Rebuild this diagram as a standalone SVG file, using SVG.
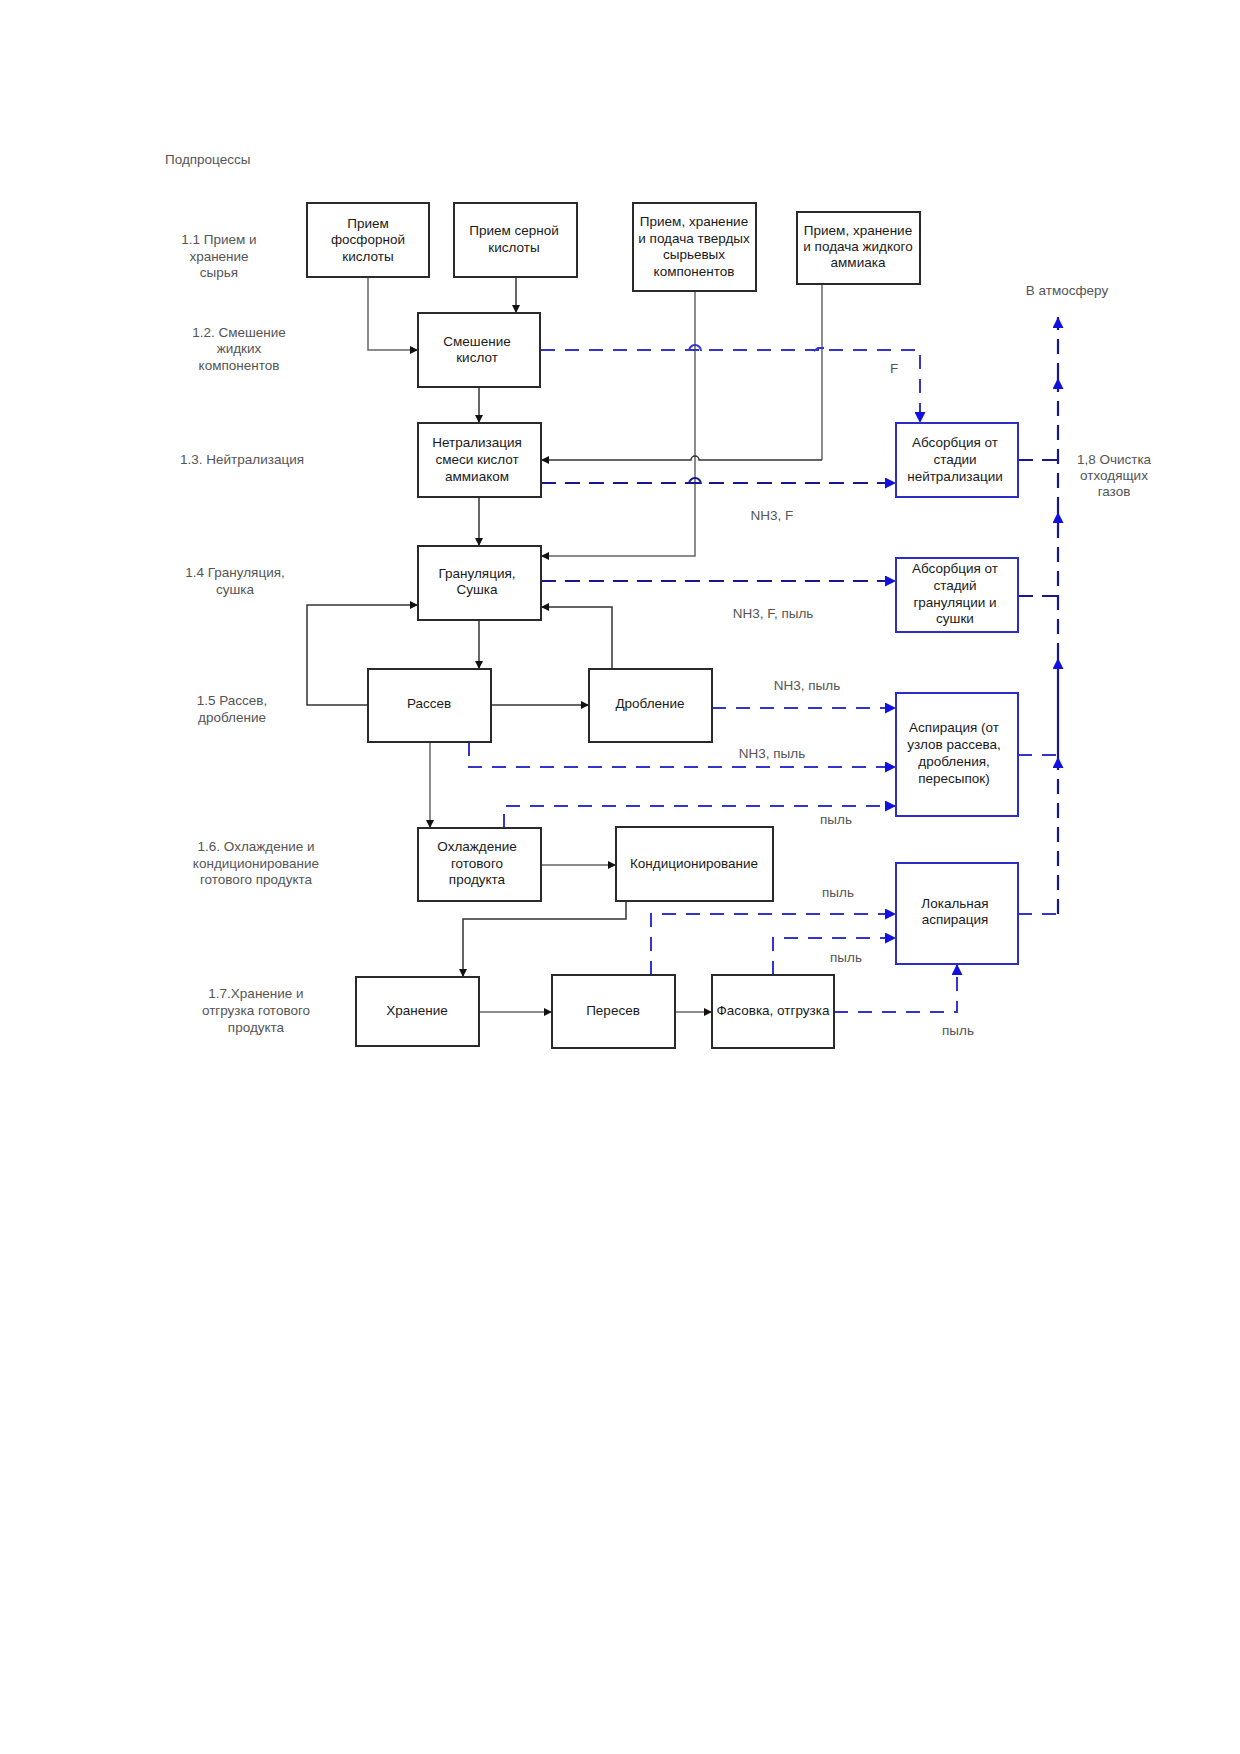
<svg xmlns="http://www.w3.org/2000/svg" width="1240" height="1754" viewBox="0 0 1240 1754">
<style>
text{font-family:"Liberation Sans",Arial,sans-serif;font-size:13.5px}
.bt{fill:#1a1a1a;text-anchor:middle}
.lb{fill:#555;text-anchor:middle}
.ll{fill:#555}
.gl{fill:#555;text-anchor:middle}
.box{fill:#fff;stroke:#2a2a2a;stroke-width:2}
.bbox{fill:#fff;stroke:#2c2cc8;stroke-width:2}
.sl{fill:none;stroke:#333;stroke-width:1.5}
.sg{fill:none;stroke:#666;stroke-width:1.5}
.dn{fill:none;stroke:#18188c;stroke-width:2.2;stroke-dasharray:15 9}
.db{fill:none;stroke:#3434cc;stroke-width:2;stroke-dasharray:14 10}
.hop{fill:none;stroke-width:2}
</style>
<defs>
<marker id="ak" viewBox="0 0 10 10" refX="10" refY="5" markerWidth="8" markerHeight="8" markerUnits="userSpaceOnUse" orient="auto"><path d="M0,0L10,5L0,10z" fill="#111"/></marker>
<marker id="ab" viewBox="0 0 10 10" refX="10" refY="5" markerWidth="11" markerHeight="11" markerUnits="userSpaceOnUse" orient="auto"><path d="M0,0L10,5L0,10z" fill="#1010e0"/></marker>
</defs>
<rect width="1240" height="1754" fill="#fff"/>

<g id="labels">
<text class="ll" x="165" y="164">Подпроцессы</text>
<text class="lb" x="219" y="244">1.1 Прием и</text>
<text class="lb" x="219" y="261">хранение</text>
<text class="lb" x="219" y="277">сырья</text>
<text class="lb" x="239" y="337">1.2. Смешение</text>
<text class="lb" x="239" y="353">жидких</text>
<text class="lb" x="239" y="370">компонентов</text>
<text class="lb" x="242" y="464">1.3. Нейтрализация</text>
<text class="lb" x="235" y="577">1.4 Грануляция,</text>
<text class="lb" x="235" y="594">сушка</text>
<text class="lb" x="232" y="705">1.5 Рассев,</text>
<text class="lb" x="232" y="722">дробление</text>
<text class="lb" x="256" y="851">1.6. Охлаждение и</text>
<text class="lb" x="256" y="868">кондиционирование</text>
<text class="lb" x="256" y="884">готового продукта</text>
<text class="lb" x="256" y="998">1.7.Хранение и</text>
<text class="lb" x="256" y="1015">отгрузка готового</text>
<text class="lb" x="256" y="1032">продукта</text>
<text class="lb" x="1114" y="464">1,8 Очистка</text>
<text class="lb" x="1114" y="480">отходящих</text>
<text class="lb" x="1114" y="496">газов</text>
<text class="lb" x="1067" y="295">В атмосферу</text>
<text class="gl" x="894" y="373">F</text>
<text class="gl" x="772" y="520">NH3, F</text>
<text class="gl" x="773" y="618">NH3, F, пыль</text>
<text class="gl" x="807" y="690">NH3, пыль</text>
<text class="gl" x="772" y="758">NH3, пыль</text>
<text class="gl" x="836" y="824">пыль</text>
<text class="gl" x="838" y="897">пыль</text>
<text class="gl" x="846" y="962">пыль</text>
<text class="gl" x="958" y="1035">пыль</text>
</g>

<g id="connectors">
<!-- solid -->
<path class="sg" d="M368,277V350H418" marker-end="url(#ak)"/>
<path class="sl" d="M516,277V313" marker-end="url(#ak)"/>
<path class="sl" d="M479,387V423" marker-end="url(#ak)"/>
<path class="sg" d="M695,291V556H541" marker-end="url(#ak)"/>
<path class="sg" d="M822,284V460"/>
<path class="sl" d="M822,460H699a4,4 0 0 0 -8,0H541" marker-end="url(#ak)"/>
<path class="sl" d="M479,497V546" marker-end="url(#ak)"/>
<path class="sl" d="M479,620V669" marker-end="url(#ak)"/>
<path class="sl" d="M368,705H307V605H418" marker-end="url(#ak)"/>
<path class="sl" d="M491,705H589" marker-end="url(#ak)"/>
<path class="sl" d="M612,669V607H541" marker-end="url(#ak)"/>
<path class="sg" d="M430,742V828" marker-end="url(#ak)"/>
<path class="sg" d="M541,865H616" marker-end="url(#ak)"/>
<path class="sl" d="M626,901V919H463V977" marker-end="url(#ak)"/>
<path class="sg" d="M479,1012H552" marker-end="url(#ak)"/>
<path class="sg" d="M675,1012H712" marker-end="url(#ak)"/>
<!-- dashed -->
<path class="db" d="M541,350H920V423" marker-end="url(#ab)"/>
<path class="hop" stroke="#3434cc" d="M689,351a6,6 0 0 1 12,0"/>
<path class="hop" stroke="#3434cc" d="M814,351l4,-3h6"/>
<path class="dn" d="M541,483H896" marker-end="url(#ab)"/>
<path class="hop" stroke="#18188c" d="M689,484a6,6 0 0 1 12,0"/>
<path class="dn" d="M1018,460H1058"/>
<path class="dn" d="M541,581H896" marker-end="url(#ab)"/>
<path class="dn" d="M1018,596H1058"/>
<path class="db" d="M712,708H896" marker-end="url(#ab)"/>
<path class="db" d="M469,742V767H896" marker-end="url(#ab)"/>
<path class="db" d="M504,828V806H896" marker-end="url(#ab)"/>
<path class="db" d="M1018,755H1058"/>
<path class="db" d="M651,975V914H896" marker-end="url(#ab)"/>
<path class="db" d="M773,975V938H896" marker-end="url(#ab)"/>
<path class="db" d="M834,1012H957V964" marker-end="url(#ab)"/>
<path class="db" d="M1018,914H1058"/>
<path class="dn" d="M1058,914V757" marker-end="url(#ab)"/>
<path fill="none" stroke="#18188c" stroke-width="2.2" d="M1058,757V658" marker-end="url(#ab)"/>
<path class="dn" d="M1058,658V512" marker-end="url(#ab)"/>
<path class="dn" d="M1058,512V378" marker-end="url(#ab)"/>
<path class="dn" d="M1058,378V317" marker-end="url(#ab)"/>
</g>

<g id="n-fosfor"><rect class="box" x="307" y="203" width="122" height="74"/>
<text class="bt" x="368" y="228">Прием</text><text class="bt" x="368" y="244">фосфорной</text><text class="bt" x="368" y="261">кислоты</text></g>
<g id="n-sernoy"><rect class="box" x="454" y="203" width="123" height="74"/>
<text class="bt" x="514" y="235">Прием серной</text><text class="bt" x="514" y="252">кислоты</text></g>
<g id="n-tverd"><rect class="box" x="633" y="203" width="123" height="88"/>
<text class="bt" x="694" y="226">Прием, хранение</text><text class="bt" x="694" y="243">и подача твердых</text><text class="bt" x="694" y="259">сырьевых</text><text class="bt" x="694" y="276">компонентов</text></g>
<g id="n-ammiak"><rect class="box" x="797" y="212" width="123" height="72"/>
<text class="bt" x="858" y="235">Прием, хранение</text><text class="bt" x="858" y="251">и подача жидкого</text><text class="bt" x="858" y="267">аммиака</text></g>
<g id="n-smesh"><rect class="box" x="418" y="313" width="122" height="74"/>
<text class="bt" x="477" y="346">Смешение</text><text class="bt" x="477" y="362">кислот</text></g>
<g id="n-neytr"><rect class="box" x="418" y="423" width="123" height="74"/>
<text class="bt" x="477" y="447">Нетрализация</text><text class="bt" x="477" y="464">смеси кислот</text><text class="bt" x="477" y="481">аммиаком</text></g>
<g id="n-abs1"><rect class="bbox" x="896" y="423" width="122" height="74"/>
<text class="bt" x="955" y="447">Абсорбция от</text><text class="bt" x="955" y="464">стадии</text><text class="bt" x="955" y="481">нейтрализации</text></g>
<g id="n-gran"><rect class="box" x="418" y="546" width="123" height="74"/>
<text class="bt" x="477" y="578">Грануляция,</text><text class="bt" x="477" y="594">Сушка</text></g>
<g id="n-abs2"><rect class="bbox" x="896" y="558" width="122" height="74"/>
<text class="bt" x="955" y="573">Абсорбция от</text><text class="bt" x="955" y="590">стадий</text><text class="bt" x="955" y="607">грануляции и</text><text class="bt" x="955" y="623">сушки</text></g>
<g id="n-rassev"><rect class="box" x="368" y="669" width="123" height="73"/>
<text class="bt" x="429" y="708">Рассев</text></g>
<g id="n-drob"><rect class="box" x="589" y="669" width="123" height="73"/>
<text class="bt" x="650" y="708">Дробление</text></g>
<g id="n-aspir"><rect class="bbox" x="896" y="693" width="122" height="123"/>
<text class="bt" x="954" y="732">Аспирация (от</text><text class="bt" x="954" y="749">узлов рассева,</text><text class="bt" x="954" y="766">дробления,</text><text class="bt" x="954" y="783">пересыпок)</text></g>
<g id="n-ohl"><rect class="box" x="418" y="828" width="123" height="73"/>
<text class="bt" x="477" y="851">Охлаждение</text><text class="bt" x="477" y="868">готового</text><text class="bt" x="477" y="884">продукта</text></g>
<g id="n-kond"><rect class="box" x="616" y="827" width="157" height="74"/>
<text class="bt" x="694" y="868">Кондиционирование</text></g>
<g id="n-lokal"><rect class="bbox" x="896" y="863" width="122" height="101"/>
<text class="bt" x="955" y="908">Локальная</text><text class="bt" x="955" y="924">аспирация</text></g>
<g id="n-hran"><rect class="box" x="356" y="977" width="123" height="69"/>
<text class="bt" x="417" y="1015">Хранение</text></g>
<g id="n-peresev"><rect class="box" x="552" y="975" width="123" height="73"/>
<text class="bt" x="613" y="1015">Пересев</text></g>
<g id="n-fasov"><rect class="box" x="712" y="975" width="122" height="73"/>
<text class="bt" x="773" y="1015">Фасовка, отгрузка</text></g>
</svg>
